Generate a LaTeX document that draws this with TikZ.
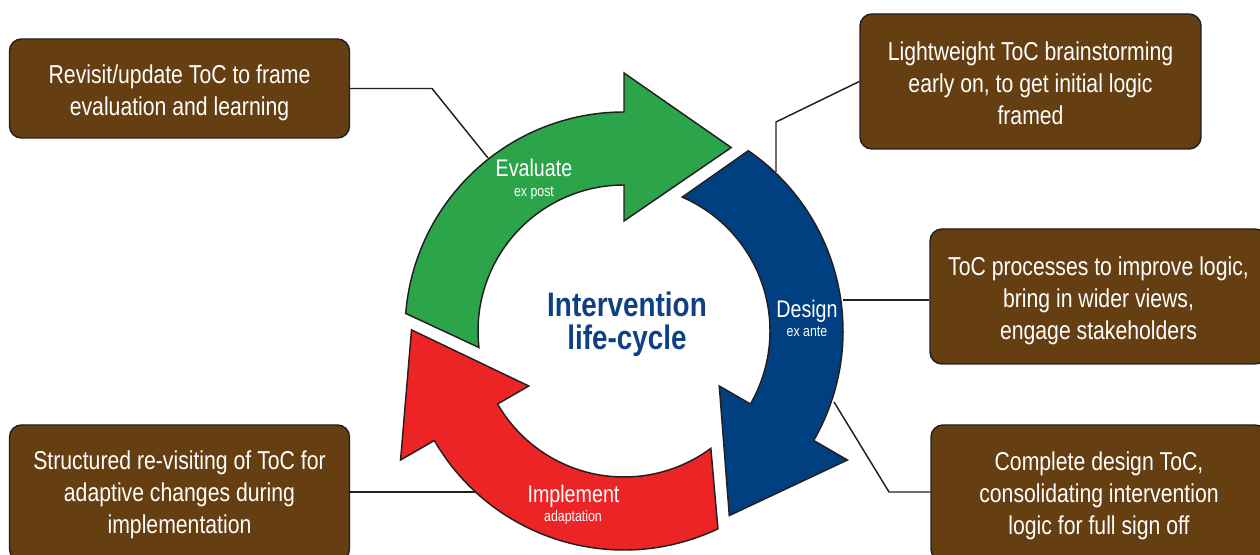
\documentclass[tikz,border=0pt]{standalone}
\usepackage{fontspec}
\setmainfont{Liberation Sans}[FakeStretch=0.82]
\usetikzlibrary{calc}
\definecolor{brownbox}{RGB}{101,63,18}
\definecolor{evalgreen}{RGB}{43,164,74}
\definecolor{designblue}{RGB}{1,64,128}
\definecolor{implred}{RGB}{237,36,38}
\definecolor{titleblue}{RGB}{16,64,132}
\definecolor{edgegray}{RGB}{35,31,32}
\newcommand\lifearrow[2]{%
  \filldraw[cyclearrow, fill=#2]
    (#1:219) -- (#1:258) -- ({#1-30.3}:212.5) -- (#1:110) -- (#1:146)
    arc[start angle=#1, end angle={#1+96.5}, radius=146]
    -- ({#1+85.4}:219)
    arc[start angle={#1+85.4}, end angle=#1, radius=219] -- cycle;}
\begin{document}
\begin{tikzpicture}[x=0.75pt,y=0.75pt,
  infobox/.style={draw=edgegray, line width=1.1pt, fill=brownbox, rounded corners=9pt,
    inner sep=0pt},
  boxtext/.style={text=white, align=center, inner sep=0pt, font=\fontsize{19.4}{24}\selectfont},
  cyclearrow/.style={draw=edgegray, line width=1.1pt, line join=miter},
  arrowlabel/.style={text=white, font=\fontsize{18}{20}\selectfont, anchor=base, inner sep=0pt},
  arrowsub/.style={text=white, font=\fontsize{11.3}{12}\selectfont, anchor=base, inner sep=0pt},
  titlelabel/.style={text=titleblue, font=\fontsize{25.5}{30}\selectfont\bfseries, anchor=base, inner sep=0pt},
  connector/.style={draw=edgegray, line width=1.1pt}]

\useasboundingbox (0,0) rectangle (1260,555);
\fill[white] (0,0) rectangle (1260,555);

% boxes
\node[infobox, minimum width=255pt, minimum height=74.25pt] (box1) at (179.5,466.5) {};
\node[infobox, minimum width=255.75pt, minimum height=101.25pt] (box2) at (1030.5,473.5) {};
\node[infobox, minimum width=252.75pt, minimum height=101.25pt] (box3) at (1098.5,258.5) {};
\node[infobox, minimum width=252pt, minimum height=102pt] (box4) at (1099,62) {};
\node[infobox, minimum width=255pt, minimum height=102pt] (box5) at (179.5,62) {};

\node[boxtext] (box1text) at ([yshift=-3.5]box1.center)
  {Revisit/update ToC to frame\\evaluation and learning};
\node[boxtext] (box2text) at ([yshift=-1]box2.center)
  {Lightweight ToC brainstorming\\early on, to get initial logic\\framed};
\node[boxtext] (box3text) at ([yshift=-3.5]box3.center)
  {ToC processes to improve logic,\\bring in wider views,\\engage stakeholders};
\node[boxtext] (box4text) at ([yshift=-2]box4.center)
  {Complete design ToC,\\consolidating intervention\\logic for full sign off};
\node[boxtext] (box5text) at ([yshift=-1.5]box5.center)
  {Structured re-visiting of ToC for\\adaptive changes during\\implementation};

% connector points
\coordinate (tlA) at (432,468);
\coordinate (tlB) at (488,397);
\coordinate (trA) at (776,433);
\coordinate (trB) at (776,383);
\coordinate (mrA) at (843,255);
\coordinate (brA) at (834,153);
\coordinate (brB) at (889,63);
\coordinate (blA) at (475,63);

\draw[connector] (box1.east) -- (tlA |- box1.east) -- (tlB);
\draw[connector] (box2.west) -- (trA) -- (trB);
\draw[connector] (mrA) -- (mrA -| box3.west);
\draw[connector] (brA) -- (brB) -- (brB -| box4.west);
\draw[connector] (blA -| box5.east) -- (blA);

% cycle arrows
\begin{scope}[shift={(624,224)}]
  \lifearrow{90}{evalgreen}
  \lifearrow{-30}{designblue}
  \lifearrow{210}{implred}
\end{scope}

% arrow labels
\node[arrowlabel] (evaltxt) at (534,378) {Evaluate};
\node[arrowsub] (evalsub) at (534,358) {ex post};
\node[arrowlabel] (destxt) at (807,237) {Design};
\node[arrowsub] (dessub) at (807,218) {ex ante};
\node[arrowlabel] (impltxt) at (573.5,52) {Implement};
\node[arrowsub] (implsub) at (573,33) {adaptation};

% title
\node[titlelabel] (title1) at (627,238) {Intervention};
\node[titlelabel] (title2) at (627,205) {life-cycle};
\end{tikzpicture}
\end{document}
